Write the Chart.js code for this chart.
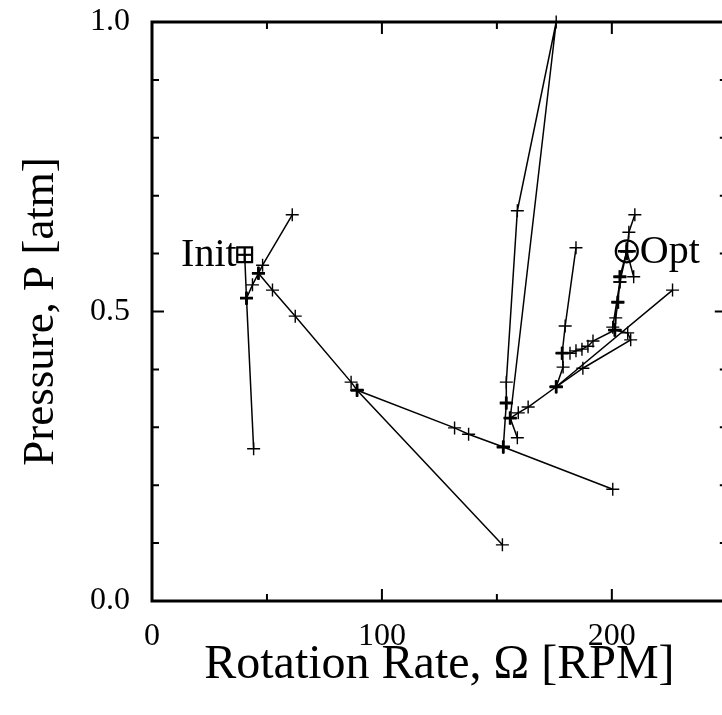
<!DOCTYPE html>
<html>
<head>
<meta charset="utf-8">
<script src="https://cdn.jsdelivr.net/npm/chart.js@4/dist/chart.umd.min.js"></script>
<style>
  html, body { margin: 0; padding: 0; background: #fff; overflow: hidden; }
  #wrap { width: 740px; height: 715px; }
</style>
</head>
<body>
<div id="wrap"><canvas id="c" width="740" height="715"></canvas></div>
<script>
// ---- Data (Rotation rate [RPM], Pressure [atm]) ----
const initPoint = [40.3, 0.598];
const optPoint = [206.5, 0.604];

const pathA = [[40.3, 0.598], [41.1, 0.523], [44.2, 0.263], [41.1, 0.523]];
const pathB = [[41.1, 0.523], [43.7, 0.546], [46.3, 0.566], [48.1, 0.580], [61.0, 0.667]];
const pathC = [[46.3, 0.566], [52.4, 0.537], [62.3, 0.492], [86.6, 0.378], [89.2, 0.364], [152.4, 0.097], [89.2, 0.364]];
const pathD = [[89.2, 0.364], [131.6, 0.299], [137.7, 0.288], [152.8, 0.266], [200.4, 0.193]];
const pathE = [[152.8, 0.266], [154.1, 0.342], [154.1, 0.378], [158.9, 0.674], [175.8, 1.0], [155.8, 0.316], [158.9, 0.282]];
const pathF = [[155.8, 0.316], [159.3, 0.325], [163.6, 0.335], [175.8, 0.370], [226.4, 0.537]];
const pathG = [[175.8, 0.370], [178.8, 0.404], [178.4, 0.428], [179.7, 0.475], [184.4, 0.610]];
const pathH = [[178.4, 0.428], [181.8, 0.428], [184.4, 0.432], [187.0, 0.435], [189.6, 0.440], [191.8, 0.449], [201.3, 0.468]];
const pathI = [[175.8, 0.370], [187.4, 0.402], [208.2, 0.451], [206.9, 0.463], [201.3, 0.468]];
const pathJ = [[201.3, 0.468], [201.7, 0.489], [202.6, 0.516], [203.5, 0.551], [203.5, 0.560], [206.5, 0.604], [207.4, 0.637], [210.0, 0.667]];
const pathK = [[200.4, 0.473], [203.5, 0.551], [206.5, 0.604], [209.5, 0.560]];

// points visited repeatedly (drawn bold)
const revisited = [[41.1, 0.523], [46.3, 0.566], [89.2, 0.364], [152.8, 0.266], [154.1, 0.342],
  [155.8, 0.316], [175.8, 0.370], [178.4, 0.428], [201.3, 0.468], [202.6, 0.516], [203.5, 0.560], [206.5, 0.604]];

const paths = [pathA, pathB, pathC, pathD, pathE, pathF, pathG, pathH, pathI, pathJ, pathK];

// ---- Axes ----
const xMajorTicks = [0, 100, 200];
const xMinorTicks = [50, 150, 250];
const yMajorTicks = [0.0, 0.5, 1.0];
const yMinorTicks = [0.1, 0.2, 0.3, 0.4, 0.6, 0.7, 0.8, 0.9];
const xTickLabels = ['0', '100', '200'];
const yTickLabels = ['0.0', '0.5', '1.0'];
const xTitle = 'Rotation Rate, Ω [RPM]';
const yTitle = 'Pressure, P [atm]';
const initLabel = 'Init';
const optLabel = 'Opt';

const SERIF = '"Liberation Serif", "DejaVu Serif", serif';
const toXY = arr => arr.map(p => ({x: p[0], y: p[1]}));

const datasets = paths.map(p => ({
  data: toXY(p),
  showLine: true,
  borderColor: '#000',
  borderWidth: 1.5,
  pointStyle: 'cross',
  pointRadius: 6.5,
  pointBorderWidth: 1.4,
  pointBorderColor: '#000',
  pointHoverRadius: 6.5
}));
datasets.push({
  data: toXY(revisited), showLine: false, pointStyle: 'cross', pointRadius: 6.5,
  pointBorderWidth: 2.8, pointBorderColor: '#000', borderColor: '#000'
});
datasets.push({
  data: toXY([initPoint]), showLine: false, pointStyle: 'rect', pointRadius: 10.5,
  pointBorderWidth: 2.2, pointBorderColor: '#000', pointBackgroundColor: 'rgba(0,0,0,0)'
});
datasets.push({
  data: toXY([initPoint]), showLine: false, pointStyle: 'cross', pointRadius: 7.4,
  pointBorderWidth: 2.2, pointBorderColor: '#000'
});
datasets.push({
  data: toXY([optPoint]), showLine: false, pointStyle: 'circle', pointRadius: 11,
  pointBorderWidth: 2.2, pointBorderColor: '#000', pointBackgroundColor: 'rgba(0,0,0,0)'
});
datasets.push({
  data: toXY([optPoint]), showLine: false, pointStyle: 'cross', pointRadius: 9,
  pointBorderWidth: 2.6, pointBorderColor: '#000'
});

const framePlugin = {
  id: 'frame',
  afterDraw(chart) {
    const {ctx, chartArea: a, scales: {x, y}} = chart;
    ctx.save();
    ctx.strokeStyle = '#000';
    ctx.lineCap = 'butt';
    const tick = (len, lw, vals, axis) => {
      ctx.lineWidth = lw;
      ctx.beginPath();
      vals.forEach(v => {
        if (axis === 'x') {
          const px = x.getPixelForValue(v);
          ctx.moveTo(px, a.bottom); ctx.lineTo(px, a.bottom - len);
          ctx.moveTo(px, a.top); ctx.lineTo(px, a.top + len);
        } else {
          const py = y.getPixelForValue(v);
          ctx.moveTo(a.left, py); ctx.lineTo(a.left + len, py);
          ctx.moveTo(a.right, py); ctx.lineTo(a.right - len, py);
        }
      });
      ctx.stroke();
    };
    tick(12, 2, xMajorTicks, 'x');
    tick(7, 2, xMinorTicks, 'x');
    tick(12, 2, yMajorTicks, 'y');
    tick(7, 2, yMinorTicks, 'y');
    ctx.lineWidth = 3;
    ctx.strokeRect(a.left, a.top, a.right - a.left, a.bottom - a.top);
    ctx.fillStyle = '#000';
    ctx.font = '40px ' + SERIF;
    ctx.textBaseline = 'middle';
    ctx.textAlign = 'right';
    ctx.fillText(initLabel, x.getPixelForValue(initPoint[0]) - 8, y.getPixelForValue(initPoint[1]) + 1);
    ctx.textAlign = 'left';
    ctx.fillText(optLabel, x.getPixelForValue(optPoint[0]) + 13, y.getPixelForValue(optPoint[1]) + 1);
    ctx.restore();
  }
};

new Chart(document.getElementById('c'), {
  type: 'scatter',
  data: { datasets },
  options: {
    responsive: false,
    animation: false,
    devicePixelRatio: 1,
    clip: false,
    layout: { padding: { top: 22, right: 10, left: 0, bottom: 0 } },
    plugins: { legend: { display: false }, tooltip: { enabled: false } },
    scales: {
      x: {
        type: 'linear', min: 0, max: 250,
        grid: { display: false, drawTicks: false },
        border: { display: false },
        afterBuildTicks: s => { s.ticks = xMajorTicks.map(v => ({value: v})); },
        afterFit: s => { s.height = 114; s.paddingLeft = 0; s.paddingRight = 0; },
        ticks: {
          padding: 16, color: '#000', maxRotation: 0, autoSkip: false,
          font: { family: SERIF, size: 32 },
          callback: v => xTickLabels[xMajorTicks.indexOf(v)]
        },
        title: { display: true, text: xTitle, color: '#000', font: { family: SERIF, size: 48 }, padding: { bottom: 21, top: 0 } }
      },
      y: {
        type: 'linear', min: 0, max: 1,
        grid: { display: false, drawTicks: false },
        border: { display: false },
        afterBuildTicks: s => { s.ticks = yMajorTicks.map(v => ({value: v})); },
        afterFit: s => { s.width = 152; s.paddingTop = 0; s.paddingBottom = 0; },
        ticks: {
          padding: 22, color: '#000', autoSkip: false,
          font: { family: SERIF, size: 32 },
          callback: v => yTickLabels[yMajorTicks.indexOf(v)]
        },
        title: { display: true, text: yTitle, color: '#000', font: { family: SERIF, size: 45 }, padding: { top: 14, bottom: 0 } }
      }
    }
  },
  plugins: [framePlugin]
});
</script>
</body>
</html>
